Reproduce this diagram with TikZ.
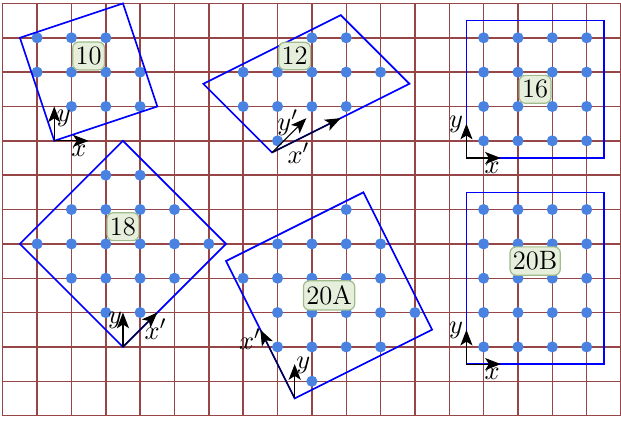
\documentclass[tikz,border=0pt]{standalone}
\usepackage{tikz}
\usetikzlibrary{arrows.meta}
\definecolor{gridred}{RGB}{150,70,70}
\definecolor{atomblue}{RGB}{74,130,226}
\definecolor{tagfill}{RGB}{230,238,220}
\definecolor{tagdraw}{RGB}{160,188,140}
\tikzset{every picture/.style={line width=0.75pt},
  cell/.style={draw=blue, line width=0.7pt},
  atom/.style={fill=atomblue},
  axis/.style={->, line width=0.45pt},
  tag/.style={fill=tagfill, draw=tagdraw, line width=0.5pt, rounded corners=2.5pt, inner xsep=1.2pt, inner ysep=2pt, font=\fontsize{11}{13}\selectfont},
  lab/.style={inner sep=0pt, font=\fontsize{11}{13}\selectfont}}

\begin{document}
\begin{tikzpicture}[>={Stealth[length=6.5pt,width=5pt,inset=1.6pt]}, x=0.5cm, y=0.5cm]
    \useasboundingbox (-0.08,-0.17) rectangle (18,12.1);
    \draw[gridred, line width=0.6pt, step=0.5cm] (0,0) grid (18,12);
    % atoms
    \foreach \p in {(1,11),(2,11),(3,11),(1,10),(2,10),(3,10),(4,10),(2,9),(3,9),(4,9)}
        \fill[atom] \p circle[radius=2.3pt];
    \foreach \p in {(9,11),(10,11),(7,10),(8,10),(9,10),(10,10),(11,10),(7,9),(8,9),(9,9),(10,9),(8,8)}
        \fill[atom] \p circle[radius=2.3pt];
    \foreach \i in {14,...,17} \foreach \j in {8,...,11}
        \fill[atom] (\i,\j) circle[radius=2.3pt];
    \foreach \p in {(3,7),(4,7),(2,6),(3,6),(4,6),(5,6),(1,5),(2,5),(3,5),(4,5),(5,5),(6,5),(2,4),(3,4),(4,4),(5,4),(3,3),(4,3)}
        \fill[atom] \p circle[radius=2.3pt];
    \foreach \p in {(10,6),(8,5),(9,5),(10,5),(11,5),(7,4),(8,4),(9,4),(10,4),(11,4),(8,3),(9,3),(10,3),(11,3),(12,3),(8,2),(9,2),(10,2),(11,2),(9,1)}
        \fill[atom] \p circle[radius=2.3pt];
    \foreach \i in {14,...,17} \foreach \j in {2,...,6}
        \fill[atom] (\i,\j) circle[radius=2.3pt];
    % cells
    \coordinate (o10) at (1.5,8);
    \coordinate (o12) at (7.84,7.66);
    \coordinate (o16) at (13.5,7.5);
    \coordinate (o18) at (3.5,2);
    \coordinate (o20a) at (8.5,0.5);
    \coordinate (o20b) at (13.5,1.5);
    \draw[cell] (o10) -- ++(3,1) -- ++(-1,3) -- ++(-3,-1) -- cycle;
    \draw[cell] (o12) -- ++(4,2) -- ++(-2,2) -- ++(-4,-2) -- cycle;
    \draw[cell] (o16) rectangle ++(4,4);
    \draw[cell] (o18) -- ++(3,3) -- ++(-3,3) -- ++(-3,-3) -- cycle;
    \draw[cell] (o20a) -- ++(4,2) -- ++(-2,4) -- ++(-4,-2) -- cycle;
    \draw[cell] (o20b) rectangle ++(4,5);
    % axes
    \draw[axis] (o10) -- ++(1,0);
    \draw[axis] (o10) -- ++(0,1);
    \node[lab] (x10) at (2.22,7.70) {$x$};
    \node[lab] (y10) at (1.78,8.66) {$y$};
    \draw[axis] (o12) -- ++(2,1);
    \draw[axis] (o12) -- ++(1,1);
    \node[lab] (x12) at (8.61,7.64) {$x'$};
    \node[lab] (y12) at (8.30,8.52) {$y'$};
    \draw[axis] (o16) -- ++(1,0);
    \draw[axis] (o16) -- ++(0,1);
    \node[lab] (x16) at (14.25,7.22) {$x$};
    \node[lab] (y16) at (13.2,8.48) {$y$};
    \draw[axis] (o18) -- ++(0,1);
    \draw[axis] (o18) -- ++(1,1);
    \node[lab] (x18) at (4.45,2.52) {$x'$};
    \node[lab] (y18) at (3.27,2.76) {$y$};
    \draw[axis] (o20a) -- ++(0,1);
    \draw[axis] (o20a) -- ++(-1,2);
    \node[lab] (x20a) at (7.2,2.23) {$x'$};
    \node[lab] (y20a) at (8.75,1.47) {$y$};
    \draw[axis] (o20b) -- ++(1,0);
    \draw[axis] (o20b) -- ++(0,1);
    \node[lab] (x20b) at (14.25,1.22) {$x$};
    \node[lab] (y20b) at (13.2,2.48) {$y$};
    % sizes
    \node[tag] (t10) at (2.5,10.47) {10};
    \node[tag] (t12) at (8.5,10.47) {12};
    \node[tag] (t16) at (15.5,9.5) {16};
    \node[tag] (t18) at (3.5,5.5) {18};
    \node[tag] (t20a) at (9.5,3.5) {20A};
    \node[tag] (t20b) at (15.5,4.5) {20B};
\end{tikzpicture}
\end{document}
